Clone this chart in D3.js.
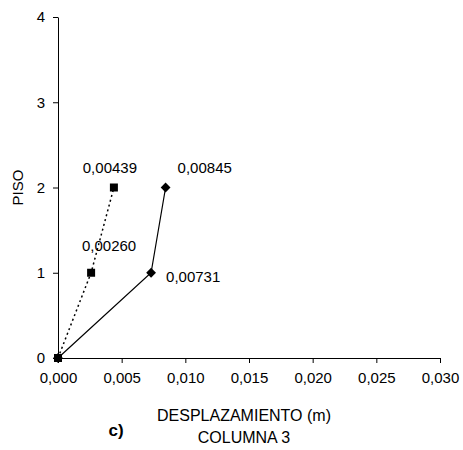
<!DOCTYPE html>
<html>
<head>
<meta charset="utf-8">
<script src="https://cdn.jsdelivr.net/npm/d3@7"></script>
<style>
  body { margin: 0; background: #fff; }
  text { font-family: "Liberation Sans", Arial, sans-serif; fill: #000; }
</style>
</head>
<body>
<script>
// data
var pisos = [0, 1, 2];
var serieA = [0, 0.00260, 0.00439];   // dotted, squares
var serieB = [0, 0.00731, 0.00845];   // solid, diamonds
var xTicks = [0, 0.005, 0.010, 0.015, 0.020, 0.025, 0.030];
var yTicks = [0, 1, 2, 3, 4];

var width = 463, height = 450;
var margin = {top: 17, right: 23, bottom: 92, left: 58};
var fs = '15px';

var svg = d3.select('body').append('svg')
  .attr('width', width)
  .attr('height', height);

var x = d3.scaleLinear().domain([0, 0.030]).range([margin.left, width - margin.right]);
var y = d3.scaleLinear().domain([0, 4]).range([height - margin.bottom, margin.top]);

var fmt = function(d) { return d3.format('.3f')(d).replace('.', ','); };
var fmt5 = function(d) { return d3.format('.5f')(d).replace('.', ','); };

var xAxis = svg.append('g')
  .attr('transform', 'translate(0,' + y(0) + ')')
  .call(d3.axisBottom(x).tickValues(xTicks).tickFormat(fmt).tickSize(5).tickSizeOuter(0));
xAxis.selectAll('text').style('font-size', fs).attr('y', 14).attr('dy', '0.71em');

var yAxis = svg.append('g')
  .attr('transform', 'translate(' + x(0) + ',0)')
  .call(d3.axisLeft(y).tickValues(yTicks).tickFormat(d3.format('d')).tickSize(5).tickSizeOuter(0));
yAxis.selectAll('text').style('font-size', fs).attr('x', -13);

svg.selectAll('.domain, .tick line').attr('stroke', '#000');

var line = d3.line()
  .x(function(d) { return x(d[0]); })
  .y(function(d) { return y(d[1]); });

var ptsA = serieA.map(function(v, i) { return [v, pisos[i]]; });
var ptsB = serieB.map(function(v, i) { return [v, pisos[i]]; });

svg.append('path').datum(ptsA)
  .attr('d', line)
  .attr('fill', 'none')
  .attr('stroke', '#000')
  .attr('stroke-width', 1.5)
  .attr('stroke-dasharray', '2,3');

svg.append('path').datum(ptsB)
  .attr('d', line)
  .attr('fill', 'none')
  .attr('stroke', '#000')
  .attr('stroke-width', 1.2);

svg.selectAll('.sq').data(ptsA).enter().append('rect')
  .attr('x', function(d) { return x(d[0]) - 4; })
  .attr('y', function(d) { return y(d[1]) - 4; })
  .attr('width', 8).attr('height', 8)
  .attr('fill', '#000');

var diamond = d3.symbol().type(d3.symbolSquare).size(48);
svg.selectAll('.dm').data(ptsB).enter().append('path')
  .attr('d', diamond)
  .attr('transform', function(d) { return 'translate(' + x(d[0]) + ',' + y(d[1]) + ') rotate(45)'; })
  .attr('fill', '#000');

// data labels (offsets from each point, in px)
svg.append('text')
  .attr('x', x(ptsA[2][0]) - 4)
  .attr('y', y(ptsA[2][1]) - 15)
  .attr('text-anchor', 'middle')
  .style('font-size', fs)
  .text(fmt5(ptsA[2][0]));

svg.append('text')
  .attr('x', x(ptsA[1][0]) + 18)
  .attr('y', y(ptsA[1][1]) - 22)
  .attr('text-anchor', 'middle')
  .style('font-size', fs)
  .text(fmt5(ptsA[1][0]));

svg.append('text')
  .attr('x', x(ptsB[2][0]) + 12)
  .attr('y', y(ptsB[2][1]) - 15)
  .style('font-size', fs)
  .text(fmt5(ptsB[2][0]));

svg.append('text')
  .attr('x', x(ptsB[1][0]) + 15)
  .attr('y', y(ptsB[1][1]) + 9)
  .style('font-size', fs)
  .text(fmt5(ptsB[1][0]));

// titles
svg.append('text')
  .attr('transform', 'translate(23,' + y(2) + ') rotate(-90)')
  .attr('text-anchor', 'middle')
  .style('font-size', fs)
  .text('PISO');

svg.append('text')
  .attr('x', 244).attr('y', 421)
  .attr('text-anchor', 'middle')
  .style('font-size', '16px')
  .text('DESPLAZAMIENTO (m)');

svg.append('text')
  .attr('x', 244).attr('y', 443)
  .attr('text-anchor', 'middle')
  .style('font-size', '16px')
  .text('COLUMNA 3');

svg.append('text')
  .attr('x', 116).attr('y', 436)
  .attr('text-anchor', 'middle')
  .style('font-size', '17px')
  .style('font-weight', 'bold')
  .text('c)');
</script>
</body>
</html>
